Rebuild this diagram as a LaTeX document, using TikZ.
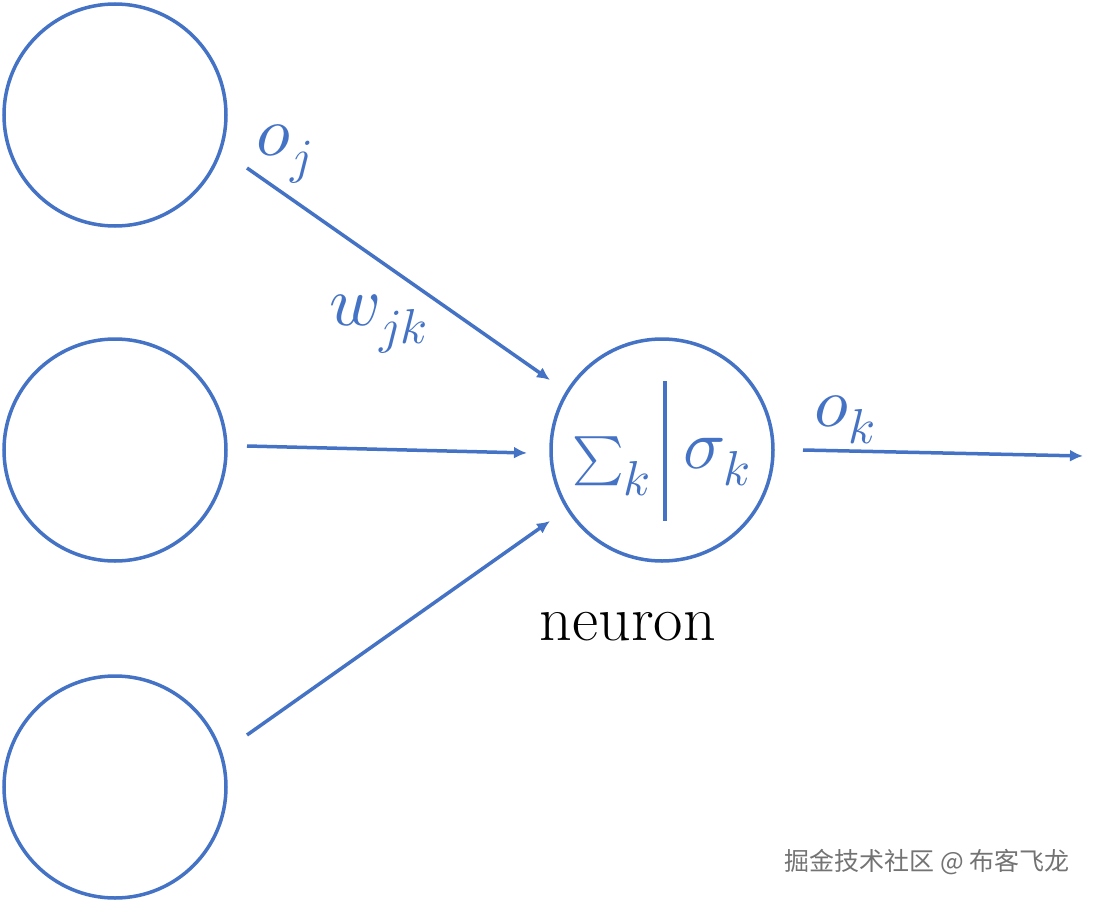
\documentclass[tikz,border=0pt]{standalone}
\usepackage{fontspec}
\usepackage{unicode-math}
\usepackage{graphicx}
\setmathfont{Latin Modern Math}
\newfontfamily\cjk{Noto Sans CJK SC}
\usetikzlibrary{arrows.meta}
\definecolor{nblue}{HTML}{4472C4}
\begin{document}
\begin{tikzpicture}[x=1pt,y=-1pt,
  unit/.style={circle,draw=nblue,line width=3.5pt,minimum size=222pt,inner sep=0pt},
  conn/.style={draw=nblue,line width=3.5pt,-{Latex[length=13pt,width=12pt]}},
  lbl/.style={text=nblue,inner sep=0pt,font=\fontsize{70}{76}\selectfont}]
\useasboundingbox (0,0) rectangle (1095,902);
\node[unit] (i1) at (115,115) {};
\node[unit] (i2) at (115,450) {};
\node[unit] (i3) at (115,787) {};
\node[unit] (n) at (662,450) {};
\coordinate (s1) at (247,168);
\coordinate (s2) at (247,446);
\coordinate (s3) at (247,735);
\coordinate (e1) at (550,380);
\coordinate (e2) at (527,453);
\coordinate (e3) at (550,521);
\coordinate (os) at (803,450);
\coordinate (oe) at (1083,456);
\draw[conn] (s1) -- (e1);
\draw[conn] (s2) -- (e2);
\draw[conn] (s3) -- (e3);
\draw[conn] (os) -- (oe);
\draw[draw=nblue,line width=3.5pt] (665,381) coordinate (bt) -- (665,521) coordinate (bb);
\node[lbl,anchor=base west] (sum) at (572,473) {$\scalebox{0.7}{$\textstyle\sum$}_k$};
\node[lbl] (sig) at (717,462) {$\sigma_k$};
\node[lbl] (oj) at (284,154) {$o_j$};
\node[lbl] (wjk) at (378,324) {$w_{jk}$};
\node[lbl] (ok) at (845,420) {$o_k$};
\node[inner sep=0pt,font=\fontsize{64}{70}\selectfont] (lab) at (628,627) {neuron};
\node[inner sep=0pt,text=black!55,font=\cjk\fontsize{25}{30}\selectfont] (wm) at (927,862) {掘金技术社区 @ 布客飞龙};
\end{tikzpicture}
\end{document}
